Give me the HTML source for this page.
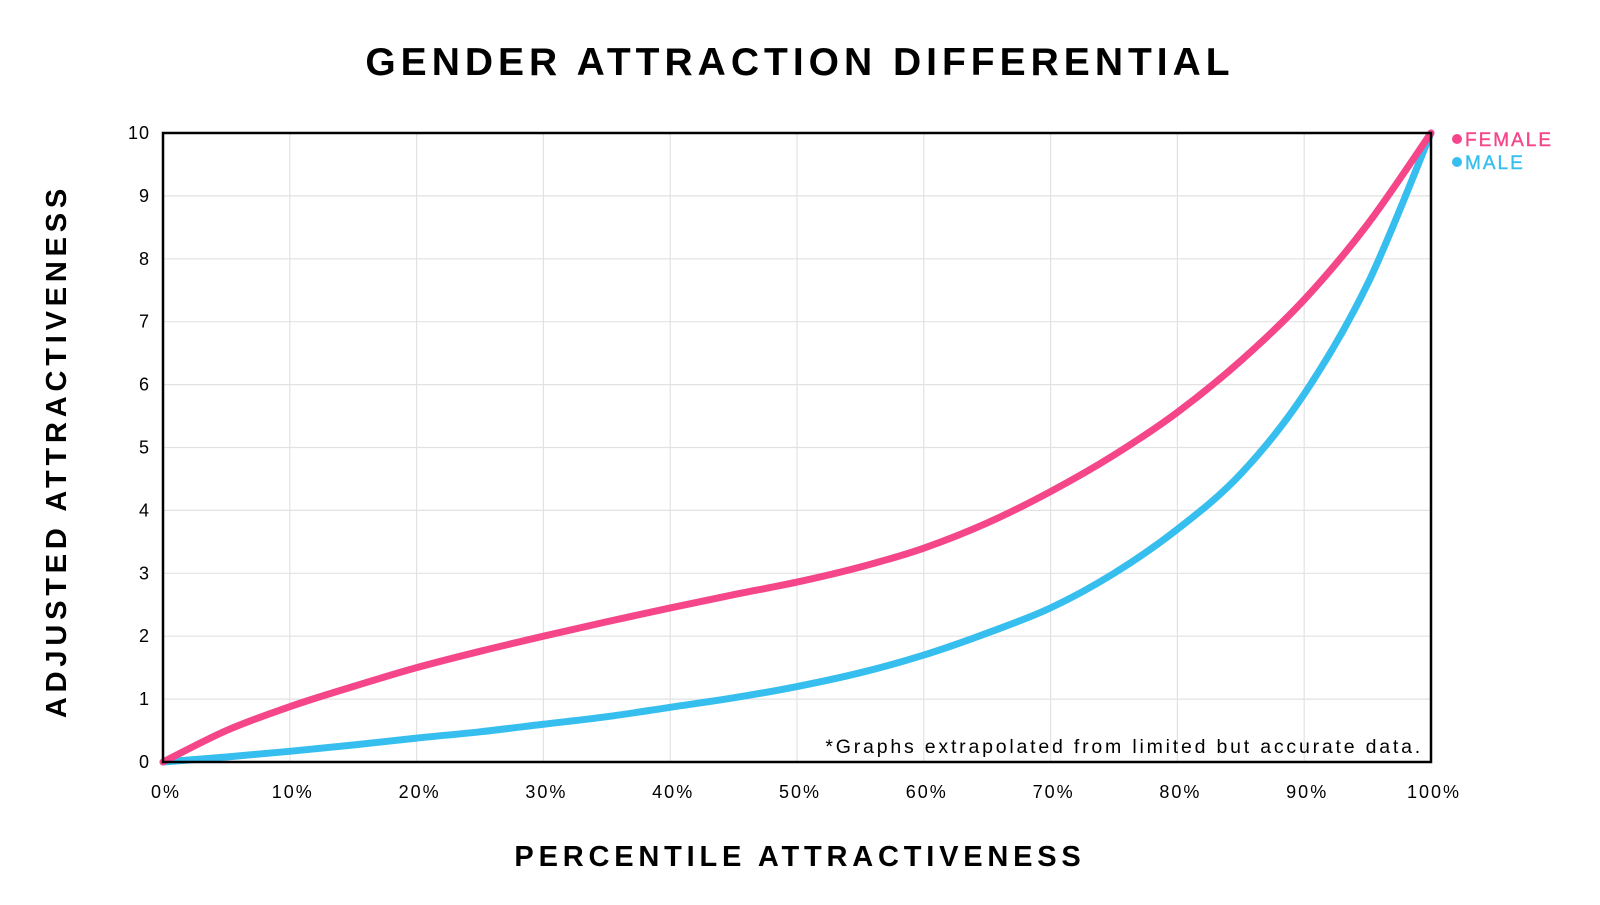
<!DOCTYPE html>
<html><head><meta charset="utf-8"><style>
body{margin:0;background:#fff;width:1600px;height:900px;overflow:hidden;font-family:"Liberation Sans",sans-serif}
</style></head><body>
<svg id="chart" width="1600" height="900" xmlns="http://www.w3.org/2000/svg" font-family="Liberation Sans, sans-serif">
<text x="800" y="75" text-anchor="middle" font-size="39" font-weight="bold" letter-spacing="5">GENDER ATTRACTION DIFFERENTIAL</text>
<text transform="translate(66,451) rotate(-90)" text-anchor="middle" font-size="29" font-weight="bold" letter-spacing="4.8">ADJUSTED ATTRACTIVENESS</text>
<text x="800" y="866" text-anchor="middle" font-size="29" font-weight="bold" letter-spacing="4.8">PERCENTILE ATTRACTIVENESS</text>
<g id="grid"></g><g id="ticks"></g><g id="series"></g>
<rect x="163" y="133" width="1268" height="629" fill="none" stroke="#000" stroke-width="2.5"/>
<text x="1423" y="753" text-anchor="end" font-size="19.5" letter-spacing="2.8">*Graphs extrapolated from limited but accurate data.</text>
<g>
<circle cx="1457" cy="139" r="5" fill="#f5468a"/>
<text x="1465" y="146" font-size="19" fill="#f5468a" letter-spacing="2" stroke="#f5468a" stroke-width="0.4">FEMALE</text>
<circle cx="1457" cy="162" r="5" fill="#36bfee"/>
<text x="1465" y="169" font-size="19" fill="#36bfee" letter-spacing="2" stroke="#36bfee" stroke-width="0.4">MALE</text>
</g>
</svg>
<script>
const percentiles=[0,5,10,15,20,25,30,35,40,45,50,55,60,65,70,75,80,85,90,95,100];
const femaleValues=[0,0.5,0.88,1.2,1.5,1.76,2.0,2.23,2.45,2.66,2.86,3.1,3.4,3.8,4.3,4.88,5.56,6.38,7.35,8.55,10];
const maleValues=[0,0.08,0.17,0.27,0.38,0.48,0.6,0.72,0.87,1.02,1.2,1.42,1.7,2.05,2.45,3.0,3.7,4.58,5.85,7.6,10];
const xTicks=[0,10,20,30,40,50,60,70,80,90,100];
const yTicks=[0,1,2,3,4,5,6,7,8,9,10];
const NS="http://www.w3.org/2000/svg";
const X0=163,X1=1431,Y0=762,Y1=133;
const xs=v=>X0+(X1-X0)*v/100, ys=v=>Y0-(Y0-Y1)*v/10;
const grid=document.getElementById('grid'),ticks=document.getElementById('ticks'),series=document.getElementById('series');
function mk(t,a,p){const e=document.createElementNS(NS,t);for(const k in a)e.setAttribute(k,a[k]);p.appendChild(e);return e;}
xTicks.forEach(v=>{
 const l=mk('line',{x1:xs(v),x2:xs(v),y1:Y1,y2:Y0,stroke:'#e2e2e2','stroke-width':1.2},grid);
 
 
 const t=mk('text',{x:xs(v)+3,y:798,'text-anchor':'middle','font-size':18,'letter-spacing':2},ticks);t.textContent=v+'%';
 
 
});
yTicks.forEach(v=>{
 const l=mk('line',{x1:X0,x2:X1,y1:ys(v),y2:ys(v),stroke:'#e2e2e2','stroke-width':1.2},grid);
 
 
 const t=mk('text',{x:150,y:ys(v)+6,'text-anchor':'end','font-size':18,'letter-spacing':1},ticks);t.textContent=v;
 
 
});
function path(vals){
 const p=percentiles.map((x,i)=>[xs(x),ys(vals[i])]);
 let d='M'+p[0][0]+','+p[0][1];
 for(let i=0;i<p.length-1;i++){
  const a=p[Math.max(0,i-1)],b=p[i],c=p[i+1],e=p[Math.min(p.length-1,i+2)];
  d+=' C'+(b[0]+(c[0]-a[0])/6)+','+(b[1]+(c[1]-a[1])/6)+' '+(c[0]-(e[0]-b[0])/6)+','+(c[1]-(e[1]-b[1])/6)+' '+c[0]+','+c[1];
 }
 return d;
}
const m=mk('path',{d:path(maleValues),fill:'none',stroke:'#36bfee','stroke-width':7,'stroke-linecap':'round'},series);


const f=mk('path',{d:path(femaleValues),fill:'none',stroke:'#f5468a','stroke-width':7,'stroke-linecap':'round'},series);


</script>
</body></html>
